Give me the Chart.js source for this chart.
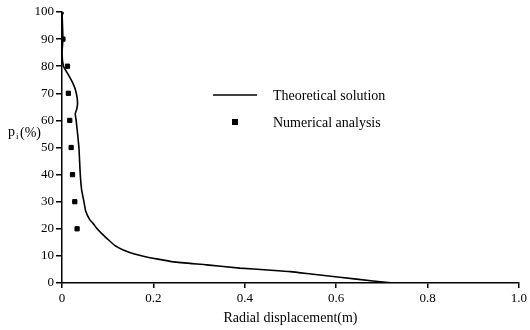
<!DOCTYPE html>
<html>
<head>
<meta charset="utf-8">
<script src="https://cdn.jsdelivr.net/npm/chart.js@4"></script>
<style>
  html, body { margin: 0; padding: 0; background: #fff; }
  #wrap { width: 530px; height: 330px; }
</style>
</head>
<body>
<div id="wrap"><canvas id="chart" width="530" height="330"></canvas></div>
<script>
// theoretical curve: radial displacement (m) vs p_i (%)
const theoryX = [0, 0.002, 0, 0.003, 0.008, 0.015, 0.023, 0.029, 0.033, 0.034, 0.032, 0.029, 0.031, 0.037, 0.04, 0.043, 0.048, 0.052, 0.061, 0.068, 0.076, 0.087, 0.098, 0.116, 0.134, 0.155, 0.178, 0.21, 0.244, 0.317, 0.389, 0.45, 0.5, 0.55, 0.608, 0.681, 0.725];
const theoryY = [100, 90, 85, 80, 78.5, 76.5, 74, 71.5, 68.5, 66, 64, 62.5, 60, 50, 40, 34.4, 30, 26.5, 23.3, 22, 20.2, 18.2, 16.5, 13.8, 12.2, 10.9, 9.9, 8.8, 7.8, 6.7, 5.5, 4.8, 4.2, 3.2, 2.1, 0.74, 0];

// numerical analysis points
const numX = [-0.002, 0.002, 0.012, 0.014, 0.017, 0.02, 0.023, 0.028, 0.033];
const numY = [100, 90, 80, 70, 60, 50, 40, 30, 20];

const xTicks = [0, 0.2, 0.4, 0.6, 0.8, 1.0];
const yTicks = [0, 10, 20, 30, 40, 50, 60, 70, 80, 90, 100];

const serif = "'Liberation Serif', 'DejaVu Serif', serif";

const toPoints = (xs, ys) => xs.map((x, i) => ({ x: x, y: ys[i] }));

// legend inside the plot + horizontal y title
const extras = {
  id: "extras",
  afterDraw: (chart) => {
    const { ctx } = chart;
    const ds = chart.data.datasets;
    ctx.save();
    ctx.fillStyle = "#000";
    ctx.strokeStyle = "#000";
    ctx.textBaseline = "middle";
    ctx.textAlign = "left";
    ctx.font = "14px " + serif;

    ctx.lineWidth = 1.5;
    ctx.beginPath();
    ctx.moveTo(213, 95);
    ctx.lineTo(257, 95);
    ctx.stroke();
    ctx.fillText(ds[0].label, 273, 96);

    ctx.fillRect(232, 119, 6, 6);
    ctx.fillText(ds[1].label, 273, 123);

    // y title p_i(%)
    ctx.font = "14px " + serif;
    ctx.fillText("p", 8, 132);
    ctx.font = "9px " + serif;
    ctx.fillText("i", 16, 137);
    ctx.font = "14px " + serif;
    ctx.fillText("(%)", 20, 133);
    ctx.restore();
  },
};

new Chart(document.querySelector("#chart"), {
  type: "scatter",
  data: {
    datasets: [
      {
        label: "Theoretical solution",
        data: toPoints(theoryX, theoryY),
        showLine: true,
        borderColor: "#000",
        borderWidth: 1.6,
        pointRadius: 0,
        tension: 0.15,
      },
      {
        label: "Numerical analysis",
        data: toPoints(numX, numY),
        showLine: false,
        pointStyle: "rect",
        pointRadius: 3,
        borderWidth: 1,
        borderColor: "#000",
        backgroundColor: "#000",
      },
    ],
  },
  options: {
    responsive: false,
    animation: false,
    layout: { padding: { top: 12, right: 11, left: 0, bottom: 1 } },
    plugins: {
      legend: { display: false },
      tooltip: { enabled: false },
    },
    scales: {
      x: {
        type: "linear",
        min: 0,
        max: 1.0,
        afterBuildTicks: (scale) => {
          scale.ticks = xTicks.map((v) => ({ value: v }));
        },
        afterFit: (scale) => {
          scale.height = 46;
        },
        ticks: {
          color: "#000",
          font: { family: serif, size: 13 },
          padding: 3,
          maxRotation: 0,
          callback: (v) => (v === 0 ? "0" : v.toFixed(1)),
        },
        grid: { drawOnChartArea: false, drawTicks: true, tickLength: 5, color: "#000", lineWidth: 1.5 },
        border: { color: "#000", width: 1.5 },
        title: {
          display: true,
          text: "Radial displacement(m)",
          color: "#000",
          font: { family: serif, size: 14 },
          padding: { top: 0, bottom: 2 },
        },
      },
      y: {
        type: "linear",
        min: 0,
        max: 100,
        afterBuildTicks: (scale) => {
          scale.ticks = yTicks.map((v) => ({ value: v }));
        },
        afterFit: (scale) => {
          scale.width = 62;
        },
        ticks: {
          color: "#000",
          font: { family: serif, size: 13 },
          padding: 2,
        },
        grid: { drawOnChartArea: false, drawTicks: true, tickLength: 6, color: "#000", lineWidth: 1.5 },
        border: { color: "#000", width: 1.5 },
      },
    },
  },
  plugins: [extras],
});
</script>
</body>
</html>
